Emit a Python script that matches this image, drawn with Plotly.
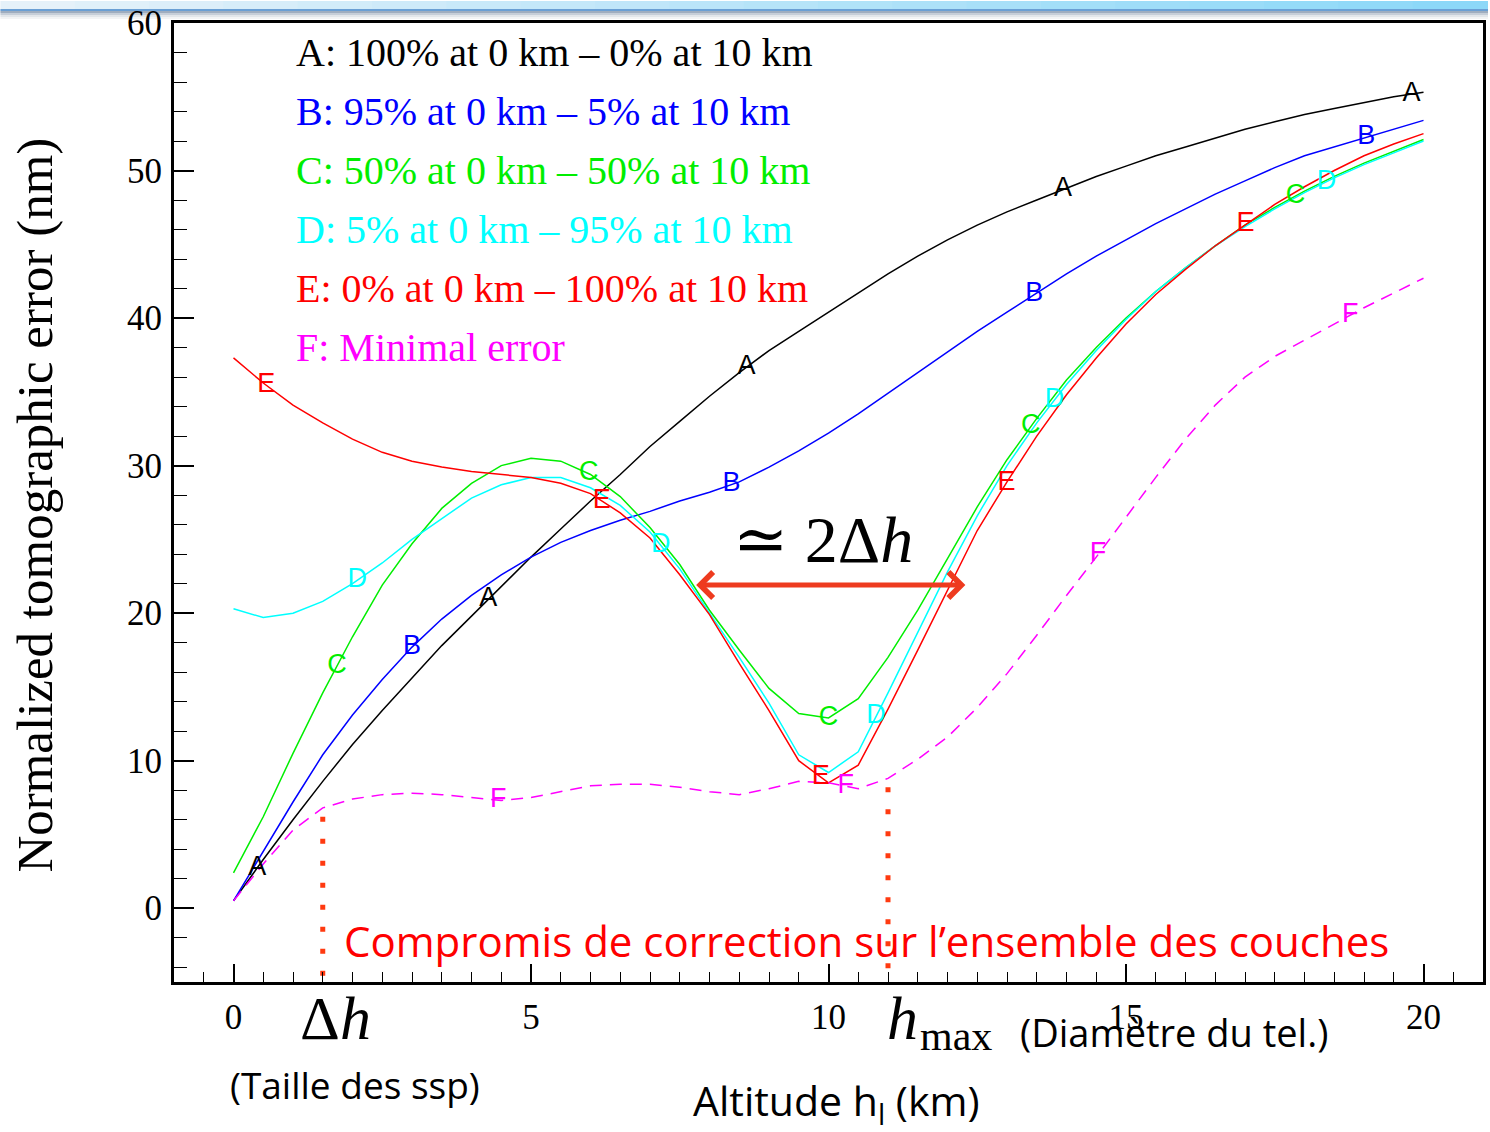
import numpy as np
import plotly.graph_objects as go

# altitude of the turbulent layer (km)
altitude = [0, 0.5, 1, 1.5, 2, 2.5, 3, 3.5, 4, 4.5, 5, 5.5, 6, 6.5, 7, 7.5, 8, 8.5, 9, 9.5,
            10, 10.5, 11, 11.5, 12, 12.5, 13, 13.5, 14, 14.5, 15, 15.5, 16, 16.5, 17, 17.5,
            18, 18.5, 19, 19.5, 20]

# normalized tomographic error (nm)
err_A = [0.5, 3.3, 6.0, 8.6, 11.1, 13.4, 15.6, 17.8, 19.8, 21.8, 23.8, 25.7, 27.6, 29.4,
         31.3, 33.0, 34.7, 36.3, 37.8, 39.1, 40.4, 41.7, 43.0, 44.2, 45.3, 46.3, 47.2, 48.0,
         48.8, 49.6, 50.3, 51.0, 51.6, 52.2, 52.8, 53.3, 53.8, 54.2, 54.6, 55.0, 55.3]
err_B = [0.5, 3.9, 7.2, 10.4, 13.1, 15.5, 17.7, 19.6, 21.2, 22.6, 23.8, 24.8, 25.6, 26.3,
         26.9, 27.6, 28.2, 28.9, 29.9, 31.0, 32.2, 33.5, 34.9, 36.3, 37.7, 39.1, 40.4, 41.7,
         43.0, 44.2, 45.3, 46.4, 47.4, 48.4, 49.3, 50.2, 51.0, 51.6, 52.2, 52.8, 53.4]
err_C = [2.4, 6.2, 10.5, 14.6, 18.4, 21.9, 24.7, 27.1, 28.8, 30.0, 30.5, 30.3, 29.4, 27.9,
         25.8, 23.3, 20.2, 17.5, 14.9, 13.2, 12.9, 14.2, 17.0, 20.2, 23.7, 27.2, 30.4, 33.2,
         35.8, 38.0, 40.0, 41.8, 43.4, 44.9, 46.3, 47.5, 48.6, 49.6, 50.5, 51.3, 52.1]
err_D = [20.3, 19.7, 20.0, 20.8, 22.0, 23.4, 25.0, 26.4, 27.8, 28.7, 29.2, 29.2, 28.5, 27.3,
         25.5, 23.0, 20.0, 17.0, 13.9, 10.4, 9.2, 10.6, 14.6, 18.7, 22.8, 26.6, 30.0, 32.9,
         35.5, 37.8, 39.9, 41.8, 43.4, 44.9, 46.2, 47.4, 48.5, 49.5, 50.4, 51.2, 52.0]
err_E = [37.3, 35.6, 34.1, 32.9, 31.8, 30.9, 30.3, 29.9, 29.6, 29.4, 29.2, 28.8, 28.1, 26.8,
         25.1, 22.6, 19.9, 16.6, 13.4, 10.0, 8.5, 9.7, 13.5, 17.5, 21.6, 25.6, 28.9, 32.0,
         34.8, 37.3, 39.6, 41.6, 43.3, 44.9, 46.3, 47.7, 48.9, 50.0, 51.0, 51.8, 52.5]
err_F = [0.5, 3.0, 5.3, 6.8, 7.4, 7.7, 7.8, 7.7, 7.5, 7.3, 7.5, 7.9, 8.3, 8.4, 8.4, 8.2,
         7.9, 7.7, 8.1, 8.6, 8.5, 8.1, 8.8, 10.1, 11.6, 13.6, 15.9, 18.5, 21.2, 23.8, 26.5,
         29.2, 31.8, 34.1, 36.0, 37.4, 38.5, 39.6, 40.7, 41.7, 42.7]

legend_text = ["A: 100% at 0 km \u2013 0% at 10 km",
               "B: 95% at 0 km \u2013 5% at 10 km",
               "C: 50% at 0 km \u2013 50% at 10 km",
               "D: 5% at 0 km \u2013 95% at 10 km",
               "E: 0% at 0 km \u2013 100% at 10 km",
               "F: Minimal error"]
letters = ["A", "B", "C", "D", "E", "F"]
colors = ["#000000", "#0000ff", "#00ee00", "#00ffff", "#ff0000", "#ff00ff"]
series = [err_A, err_B, err_C, err_D, err_E, err_F]

# where the curve letters sit along each curve (km)
label_x = [[0.4, 4.28, 8.62, 13.94, 19.8],
           [3.0, 8.37, 13.46, 19.04],
           [1.74, 5.97, 10.0, 13.4, 17.85],
           [2.08, 7.18, 10.8, 13.8, 18.37],
           [0.55, 6.19, 9.87, 12.99, 17.01],
           [4.45, 10.29, 14.53, 18.77]]

dh = 1.5      # sub-pupil size
hmax = 11.0   # telescope diameter limit
arrow_from, arrow_to, arrow_level = 7.75, 12.3, 21.9

SERIF = "Liberation Serif, Times New Roman, serif"
SANS = "Liberation Sans, Arial, sans-serif"
CAL = "Open Sans, Noto Sans, sans-serif"

fig = go.Figure()

for name, ys, col in zip(letters, series, colors):
    fig.add_trace(go.Scatter(
        x=altitude, y=ys, mode="lines", name=name,
        line=dict(color=col, width=1.5, dash="12px,8px" if name == "F" else "solid"),
        showlegend=False, hoverinfo="skip"))

for name, ys, col, lx in zip(letters, series, colors, label_x):
    fig.add_trace(go.Scatter(
        x=lx, y=np.interp(lx, altitude, ys), mode="text", text=[name] * len(lx),
        textposition="middle center", textfont=dict(family=SANS, size=27, color=col),
        showlegend=False, hoverinfo="skip"))

# dotted markers for delta h and h max, from the minimal error curve down to the axis
for xv in [dh, hmax]:
    fig.add_trace(go.Scatter(
        x=[xv, xv], y=[float(np.interp(xv, altitude, err_F)) - 0.6, -5],
        mode="lines", line=dict(color="#ff3a10", width=5, dash="5px,17px"),
        showlegend=False, hoverinfo="skip"))

ann = []
for i, (txt, col) in enumerate(zip(legend_text, colors)):
    ann.append(dict(x=1.02, y=58.0 - 4 * i, xref="x", yref="y", text=txt, showarrow=False,
                    xanchor="left", yanchor="middle", font=dict(family=SERIF, size=40, color=col)))

ann.append(dict(x=arrow_to, y=arrow_level, ax=arrow_from, ay=arrow_level, xref="x", yref="y",
                axref="x", ayref="y", text="", showarrow=True, arrowside="end+start",
                arrowhead=4, startarrowhead=4, arrowwidth=5, arrowsize=1, startarrowsize=1,
                arrowcolor="#ee3b1f"))
ann.append(dict(x=9.9, y=25.0, xref="x", yref="y", text="\u2243 2\u0394<i>h</i>", showarrow=False,
                font=dict(family=SERIF + ", DejaVu Serif", size=66, color="black")))
ann.append(dict(x=1.83, y=-2.2, xref="x", yref="y", xanchor="left", yanchor="middle",
                text="Compromis de correction sur l\u2019ensemble des couches", showarrow=False,
                font=dict(family=CAL, size=42, color="#ff0000")))

# texts below the axis
ann.append(dict(x=1.72, y=-0.038, xref="x", yref="paper", text="\u0394<i>h</i>", showarrow=False,
                yanchor="middle", font=dict(family=SERIF, size=62, color="black")))
ann.append(dict(x=10.95, y=-0.038, xref="x", yref="paper", text="<i>h</i>",
                showarrow=False, xanchor="left", yanchor="middle",
                font=dict(family=SERIF, size=62, color="black")))
ann.append(dict(x=11.5, y=-0.056, xref="x", yref="paper", text="max",
                showarrow=False, xanchor="left", yanchor="middle",
                font=dict(family=SERIF, size=42, color="black")))
ann.append(dict(x=13.19, y=-0.052, xref="x", yref="paper", text="(Diam\u00e8tre du tel.)",
                showarrow=False, xanchor="left", yanchor="middle",
                font=dict(family=CAL, size=38, color="black")))
ann.append(dict(x=-0.1, y=-0.107, xref="x", yref="paper", text="(Taille des ssp)",
                showarrow=False, xanchor="left", yanchor="middle",
                font=dict(family=CAL, size=37, color="black")))
ann.append(dict(x=10.13, y=-0.126, xref="x", yref="paper", text="Altitude h<sub>l</sub> (km)",
                showarrow=False, yanchor="middle", font=dict(family=CAL, size=41, color="black")))
ann.append(dict(x=-0.106, y=0.497, xref="paper", yref="paper", textangle=-90,
                xanchor="center", yanchor="middle",
                text="Normalized tomographic error (nm)", showarrow=False,
                font=dict(family=SERIF, size=51, color="black")))

# slide header strip at the very top
ML, MR, MT, MB = 174, 4, 22, 150
PW, PH = 1490 - ML - MR, 1132 - MT - MB
shapes = []
def px_x(p):
    return (p - ML) / PW
def px_y(p):
    return (1132 - MB - p) / PH
left_rgb = np.array([232, 242, 250])
right_rgb = np.array([138, 216, 248])
nseg = 20
for k in range(nseg):
    c = left_rgb + (right_rgb - left_rgb) * (k + 0.5) / nseg
    shapes.append(dict(type="rect", xref="paper", yref="paper", layer="below",
                       x0=px_x(1490 * k / nseg), x1=px_x(1490 * (k + 1) / nseg + 1),
                       y0=px_y(8), y1=px_y(0), line=dict(width=0),
                       fillcolor="rgb(%d,%d,%d)" % tuple(c.astype(int))))
for (a, b, col) in [(8, 10, "#6a9fd4"), (10, 12, "#9fadbf"), (12, 14, "#c6ced8"),
                    (14, 16, "#e2e6ea"), (16, 18, "#f3f4f5")]:
    shapes.append(dict(type="rect", xref="paper", yref="paper", layer="below",
                       x0=px_x(0), x1=px_x(1491), y0=px_y(b), y1=px_y(a),
                       line=dict(width=0), fillcolor=col))

fig.update_layout(
    width=1490, height=1132,
    margin=dict(l=ML, r=MR, t=MT, b=MB),
    paper_bgcolor="white", plot_bgcolor="white",
    annotations=ann, shapes=shapes,
    xaxis=dict(range=[-1, 21], tickvals=[0, 5, 10, 15, 20], ticks="inside", ticklen=18,
               tickwidth=1.5, tickcolor="black", showline=True, linewidth=3, linecolor="black",
               mirror=True, showgrid=False, zeroline=False, ticklabelstandoff=2,
               tickfont=dict(family=SERIF, size=35, color="black"),
               minor=dict(dtick=0.5, tick0=0, ticks="inside", ticklen=10, tickwidth=1.2,
                          tickcolor="black", showgrid=False)),
    yaxis=dict(range=[-5, 60], tickvals=[0, 10, 20, 30, 40, 50, 60], ticks="inside", ticklen=20,
               tickwidth=1.5, tickcolor="black", showline=True, linewidth=3, linecolor="black",
               mirror=True, showgrid=False, zeroline=False, ticklabelstandoff=2,
               tickfont=dict(family=SERIF, size=35, color="black"),
               minor=dict(dtick=2, tick0=0, ticks="inside", ticklen=13, tickwidth=1.2,
                          tickcolor="black", showgrid=False)),
)

fig.write_html("out.html", config={"displayModeBar": False},
               post_script="document.body.style.margin='0';")
